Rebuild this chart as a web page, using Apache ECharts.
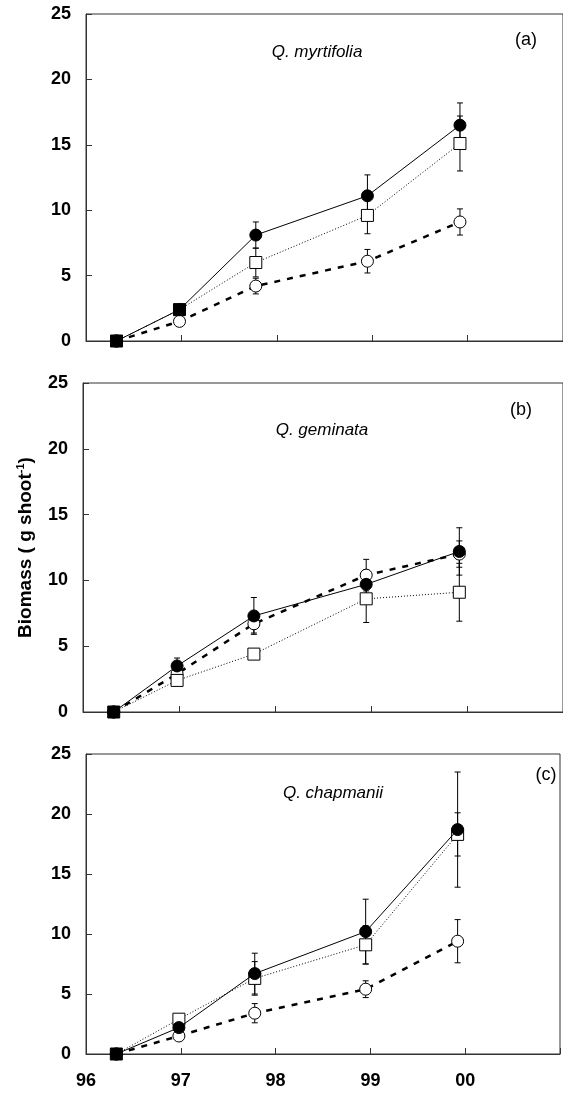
<!DOCTYPE html>
<html>
<head>
<meta charset="utf-8">
<script src="https://cdn.jsdelivr.net/npm/echarts@6/dist/echarts.min.js"></script>
<style>
  html, body { margin: 0; padding: 0; background: #fff; }
  #main { width: 563px; height: 1093px; }
</style>
</head>
<body>
<div id="main"></div>
<script>
var dom = document.getElementById('main');
var myChart = echarts.init(dom, null, { renderer: 'canvas' });

// sampling dates (year, 96 = 1996 ... 100 = 2000)
var years = [96.32, 96.98, 97.78, 98.95, 99.92];
var yTicks = [0, 5, 10, 15, 20, 25];

// (a) Q. myrtifolia
var aFilled = [0, 2.4, 8.1, 11.1, 16.5];
var aFilledErr = [0, 0, 1.0, 1.6, 1.7];
var aSquare = [0, 2.4, 6.0, 9.6, 15.1];
var aSquareErr = [0, 0, 1.1, 1.4, 2.1];
var aCircle = [0, 1.5, 4.2, 6.1, 9.1];
var aCircleErr = [0, 0, 0.6, 0.9, 1.0];

// (b) Q. geminata
var bFilled = [0, 3.5, 7.3, 9.7, 12.2];
var bFilledErr = [0, 0.6, 1.4, 1.1, 1.8];
var bSquare = [0, 2.4, 4.4, 8.6, 9.1];
var bSquareErr = [0, 0, 0, 1.8, 2.2];
var bCircle = [0, 2.9, 6.7, 10.4, 12.0];
var bCircleErr = [0, 0, 0.7, 1.2, 1.0];

// (c) Q. chapmanii
var cFilled = [0, 2.2, 6.7, 10.2, 18.7];
var cFilledErr = [0, 0, 1.7, 2.7, 4.8];
var cSquare = [0, 2.9, 6.3, 9.1, 18.3];
var cSquareErr = [0, 0, 1.4, 1.6, 1.8];
var cCircle = [0, 1.5, 3.4, 5.4, 9.4];
var cCircleErr = [0, 0, 0.8, 0.7, 1.8];

var FONT = '"Liberation Sans", Arial, sans-serif';

function pts(vals) {
    return years.map(function (x, i) { return [x, vals[i]]; });
}
function errPts(vals, errs) {
    return years.map(function (x, i) { return [x, vals[i], errs[i]]; });
}

function errorSeries(idx, vals, errs) {
    return {
        type: 'custom',
        xAxisIndex: idx, yAxisIndex: idx,
        z: 1,
        silent: true,
        data: errPts(vals, errs),
        renderItem: function (params, api) {
            var e = api.value(2);
            if (!e) return;
            var x = api.value(0), y = api.value(1);
            var hi = api.coord([x, y + e]);
            var lo = api.coord([x, y - e]);
            var st = { stroke: '#000', lineWidth: 1 };
            return {
                type: 'group',
                children: [
                    { type: 'line', shape: { x1: hi[0], y1: hi[1], x2: lo[0], y2: lo[1] }, style: st },
                    { type: 'line', shape: { x1: hi[0] - 3, y1: hi[1], x2: hi[0] + 3, y2: hi[1] }, style: st },
                    { type: 'line', shape: { x1: lo[0] - 3, y1: lo[1], x2: lo[0] + 3, y2: lo[1] }, style: st }
                ]
            };
        }
    };
}

// where the square sits under the filled circle it prints as a solid black square
function squarePts(vals, darkAt) {
    return pts(vals).map(function (p, i) {
        if (darkAt.indexOf(i) >= 0) {
            return { value: p, itemStyle: { color: '#000' } };
        }
        return p;
    });
}

function panelSeries(idx, filled, filledErr, square, squareErr, circle, circleErr, darkAt) {
    return [
        errorSeries(idx, circle, circleErr),
        errorSeries(idx, square, squareErr),
        errorSeries(idx, filled, filledErr),
        {
            type: 'line', xAxisIndex: idx, yAxisIndex: idx, z: 3,
            data: pts(circle), symbol: 'circle', symbolSize: 12,
            lineStyle: { color: '#000', width: 2.5, type: [6, 7] },
            itemStyle: { color: '#fff', borderColor: '#000', borderWidth: 1 }
        },
        {
            type: 'line', xAxisIndex: idx, yAxisIndex: idx, z: 4,
            data: squarePts(square, darkAt), symbol: 'rect', symbolSize: 12,
            lineStyle: { color: '#000', width: 1, type: [1, 2] },
            itemStyle: { color: '#fff', borderColor: '#000', borderWidth: 1 }
        },
        {
            type: 'line', xAxisIndex: idx, yAxisIndex: idx, z: 5,
            data: pts(filled), symbol: 'circle', symbolSize: 12,
            lineStyle: { color: '#000', width: 1 },
            itemStyle: { color: '#000', borderColor: '#000', borderWidth: 1 }
        }
    ];
}

function xAxisFor(idx, showLabels) {
    return {
        type: 'value', gridIndex: idx, min: 96, max: 101, interval: 1,
        axisLine: { lineStyle: { color: '#333', width: 1 } },
        axisTick: { inside: true, length: 6, lineStyle: { color: '#333' } },
        splitLine: { show: false },
        axisLabel: {
            show: showLabels, margin: 18,
            fontFamily: FONT, fontWeight: 'bold', fontSize: 18, color: '#000',
            formatter: function (v) {
                if (v === 100) return '00';
                if (v > 100) return '';
                return String(v);
            }
        }
    };
}

function yAxisFor(idx) {
    return {
        type: 'value', gridIndex: idx, min: 0, max: 25, interval: 5,
        axisLine: { show: true, lineStyle: { color: '#333', width: 1 } },
        axisTick: { show: true, inside: true, length: 6, lineStyle: { color: '#333' } },
        splitLine: { show: false },
        axisLabel: {
            margin: 15, fontFamily: FONT, fontWeight: 'bold', fontSize: 18, color: '#000',
            formatter: function (v) { return yTicks.indexOf(v) >= 0 ? String(v) : ''; }
        }
    };
}

var gridStyle = { show: true, borderColor: '#333', borderWidth: 1, backgroundColor: 'transparent' };

var yB = yAxisFor(1);
yB.name = '{t|Biomass ( g shoot}{s|-1}{t|)}';
yB.nameLocation = 'middle';
yB.nameGap = 46;
yB.nameTextStyle = {
    fontFamily: FONT, fontWeight: 'bold', fontSize: 19, color: '#000',
    rich: {
        t: { fontFamily: FONT, fontWeight: 'bold', fontSize: 19, lineHeight: 22, color: '#000' },
        s: { fontFamily: FONT, fontWeight: 'bold', fontSize: 11, verticalAlign: 'top', lineHeight: 22, color: '#000' }
    }
};

function label(x, y, txt, italic) {
    return {
        type: 'text', x: x, y: y,
        style: {
            text: txt, fontFamily: FONT, fontSize: italic ? 17 : 18,
            fontStyle: italic ? 'italic' : 'normal', fill: '#000',
            align: 'center', verticalAlign: 'middle'
        }
    };
}

var option = {
    animation: false,
    backgroundColor: '#fff',
    grid: [
        Object.assign({ left: 86, top: 14, width: 486, height: 327 }, gridStyle),
        Object.assign({ left: 83, top: 383, width: 486, height: 329 }, gridStyle),
        Object.assign({ left: 86, top: 754, width: 486, height: 300 }, gridStyle)
    ],
    xAxis: [xAxisFor(0, false), xAxisFor(1, false), xAxisFor(2, true)],
    yAxis: [yAxisFor(0), yB, yAxisFor(2)],
    graphic: [
        label(317, 52, 'Q. myrtifolia', true),
        label(526, 40, '(a)', false),
        label(322, 430, 'Q. geminata', true),
        label(521, 410, '(b)', false),
        label(333, 793, 'Q. chapmanii', true),
        label(546, 775, '(c)', false)
    ],
    series: [].concat(
        panelSeries(0, aFilled, aFilledErr, aSquare, aSquareErr, aCircle, aCircleErr, [0, 1]),
        panelSeries(1, bFilled, bFilledErr, bSquare, bSquareErr, bCircle, bCircleErr, [0]),
        panelSeries(2, cFilled, cFilledErr, cSquare, cSquareErr, cCircle, cCircleErr, [0])
    )
};

if (option && typeof option === 'object') {
    myChart.setOption(option);
}
window.addEventListener('resize', myChart.resize);
</script>
</body>
</html>
